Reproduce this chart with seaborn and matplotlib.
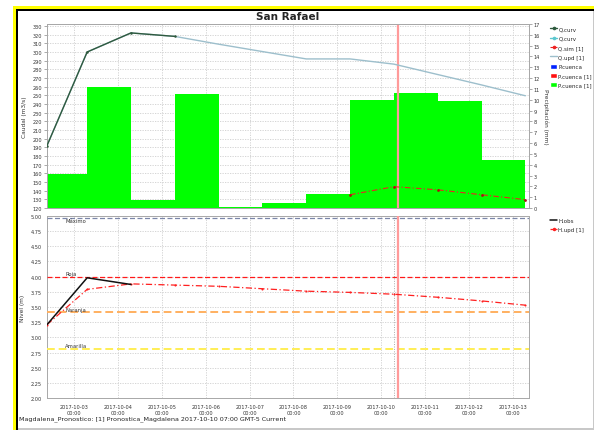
import numpy as np
import pandas as pd
import matplotlib
matplotlib.use("Agg")
import matplotlib.pyplot as plt
import matplotlib.dates as mdates
import matplotlib.ticker as mticker
from matplotlib.lines import Line2D
from matplotlib.patches import Patch, Rectangle
import seaborn as sns

sns.set_style("white")
plt.rcParams['font.family'] = ['DejaVu Sans']

# ---------------- data ----------------
precip_start = pd.date_range("2017-10-02 07:00", periods=11, freq="D")
precip_mm = [3.1, 11.15, 0.7, 10.55, 0.05, 0.45, 1.25, 10.0, 10.65, 9.85, 4.45]

q_curv_time = pd.to_datetime(["2017-10-02 09:00", "2017-10-03 07:00", "2017-10-04 07:00", "2017-10-05 07:00"])
q_curv = [192, 300, 322, 318]

q_upd_time = pd.to_datetime(["2017-10-02 09:00"] + [f"2017-10-{d:02d} 07:00" for d in range(3, 14)])
q_upd = [192, 300, 322, 318, 309, 300.5, 292, 292, 286, 274, 262, 249.5]

q_sim_time = pd.to_datetime([f"2017-10-{d:02d} 07:00" for d in range(9, 14)])
q_sim = [135.3, 144.6, 141.0, 135.3, 129.6]

h_obs_time = pd.to_datetime(["2017-10-02 09:00", "2017-10-03 07:00", "2017-10-04 07:00"])
h_obs = [3.21, 3.98, 3.87]

h_upd_time = q_upd_time
h_upd = [3.21, 3.79, 3.88, 3.86, 3.84, 3.80, 3.76, 3.74, 3.71, 3.66, 3.60, 3.53]

thr_names = ["Máximo", "Roja", "Naranja", "Amarilla"]
thr_values = [4.955, 4.0, 3.41, 2.81]
thr_colors = ["#7b86a8", "#ff1a1a", "#ffb060", "#ffee55"]

tick_days = pd.date_range("2017-10-03", "2017-10-13", freq="D")
x_start = pd.Timestamp("2017-10-02 09:00")
x_end = pd.Timestamp("2017-10-13 09:00")
now_time = pd.Timestamp("2017-10-10 09:00")
fcst_time = pd.Timestamp("2017-10-10 07:00")

title = "San Rafael"
footer = "Magdalena_Pronostico: [1] Pronostica_Magdalena 2017-10-10 07:00 GMT-5 Current"

# ---------------- figure ----------------
W, H = 594, 431
fig = plt.figure(figsize=(W / 100, H / 100), dpi=100)
fig.patch.set_facecolor("white")

def fx(px):
    return px / W

def fy(py):
    return 1 - py / H

ax_l, ax_r = 47, 529
top_t, top_b = 25, 209
bot_t, bot_b = 216.7, 399.3

ax2 = fig.add_axes([fx(ax_l), fy(top_b), fx(ax_r - ax_l), (top_b - top_t) / H])   # precip (bottom layer)
axq = fig.add_axes(ax2.get_position(), sharex=ax2)                                # discharge (top layer)
axq.set_zorder(ax2.get_zorder() + 1)
axq.patch.set_visible(False)
ax2.yaxis.tick_right()
ax2.yaxis.set_label_position("right")
axq.yaxis.tick_left()
axq.yaxis.set_label_position("left")

axh = fig.add_axes([fx(ax_l), fy(bot_b), fx(ax_r - ax_l), (bot_b - bot_t) / H], sharex=ax2)

grid_kw = dict(color="#cfcfcf", linestyle=(0, (1.5, 1.5)), linewidth=0.6)
spine_col = "#a8a8a8"
tick_fs = 3.6

# ---- precip bars (right axis) ----
bar_df = pd.DataFrame({"t": precip_start, "p": precip_mm})
ax2.bar(bar_df["t"], bar_df["p"], width=1.0, align="edge", color="#00ff00",
        edgecolor="none", zorder=3)
ax2.set_ylim(0, 17)
ax2.set_yticks(np.arange(0, 18, 1))
ax2.yaxis.set_major_formatter(mticker.FormatStrFormatter("%d"))

q_lo, q_hi = 120, 332.3
q_ticks = np.arange(120, 331, 10)
ax2.yaxis.set_minor_locator(mticker.FixedLocator((q_ticks - q_lo) / (q_hi - q_lo) * 17))
ax2.grid(which="minor", axis="y", **grid_kw, zorder=0)
ax2.grid(which="major", axis="x", **grid_kw, zorder=0)
ax2.tick_params(axis="y", which="minor", length=0)
ax2.set_ylabel("Precipitación (mm)", rotation=270, fontsize=4.2, labelpad=6, color="#333333")
ax2.axvline(now_time, color="#ff9a9a", lw=1.6, zorder=4)

# ---- discharge lines (left axis) ----
dq_upd = pd.DataFrame({"t": q_upd_time, "v": q_upd})
dq_curv = pd.DataFrame({"t": q_curv_time, "v": q_curv})
dq_sim = pd.DataFrame({"t": q_sim_time, "v": q_sim})
sns.lineplot(data=dq_upd, x="t", y="v", ax=axq, color="#9dbfcc", lw=1.0, zorder=5)
sns.lineplot(data=dq_curv, x="t", y="v", ax=axq, color="#2f5a3e", lw=1.0,
             marker="o", markersize=1.8, markeredgewidth=0, zorder=6)
sns.lineplot(data=dq_sim, x="t", y="v", ax=axq, color="#ee2222", lw=0.8,
             linestyle=(0, (5, 2, 1, 2)), marker="o", markersize=2, markeredgewidth=0,
             markerfacecolor="#aa1111", zorder=6)
axq.set_ylim(q_lo, q_hi)
axq.set_yticks(q_ticks)
axq.set_ylabel("Caudal (m3/s)", fontsize=4.2, labelpad=4, color="#333333")
axq.set_xlabel("")
ax2.set_xlabel("")

# ---- level plot ----
dh_obs = pd.DataFrame({"t": h_obs_time, "v": h_obs})
dh_upd = pd.DataFrame({"t": h_upd_time, "v": h_upd})
for name, val, col in zip(thr_names, thr_values, thr_colors):
    lw = 0.9 if name in ("Máximo", "Roja") else 1.4
    axh.axhline(val, color=col, lw=lw, linestyle=(0, (4, 2)), zorder=3)
    if name == "Máximo":
        axh.text(pd.Timestamp("2017-10-02 19:00"), val + 0.01, name, fontsize=3.8,
                 color="#333333", va="top", ha="left", zorder=4)
    else:
        axh.text(pd.Timestamp("2017-10-02 19:00"), val + 0.015, name, fontsize=3.8,
                 color="#333333", va="bottom", ha="left", zorder=4)
sns.lineplot(data=dh_upd, x="t", y="v", ax=axh, color="#ff2020", lw=0.9,
             linestyle=(0, (5, 2, 1, 2)), marker="o", markersize=1.5, markeredgewidth=0, zorder=5)
sns.lineplot(data=dh_obs, x="t", y="v", ax=axh, color="#111111", lw=1.1, zorder=6)
axh.axvline(fcst_time, color="#aaaaaa", lw=0.7, linestyle=(0, (1, 1.5)), zorder=2)
axh.axvline(now_time, color="#ff9a9a", lw=1.6, zorder=4)
axh.set_ylim(2.0, 5.0)
axh.set_yticks(np.arange(2.0, 5.01, 0.25))
axh.yaxis.set_major_formatter(mticker.FormatStrFormatter("%.2f"))
axh.grid(True, axis="both", **grid_kw, zorder=0)
axh.set_ylabel("Nivel (m)", fontsize=4.2, labelpad=4, color="#333333")
axh.set_xlabel("")

# ---- x axis ----
ax2.set_xlim(x_start, x_end)
axh.set_xticks(tick_days)
axh.xaxis.set_major_formatter(mdates.DateFormatter("%Y-%m-%d\n%H:%M"))
for a in (ax2, axq):
    a.tick_params(axis="x", which="both", labelbottom=False, length=0)

for a in (ax2, axq, axh):
    for s in a.spines.values():
        s.set_color(spine_col)
        s.set_linewidth(0.7)
    a.tick_params(axis="both", which="major", labelsize=tick_fs, length=2, width=0.5,
                  color="#888888", labelcolor="#333333", pad=1.5)
axh.tick_params(axis="x", labelsize=tick_fs, length=2, pad=2)
axq.tick_params(axis="x", length=0)
ax2.tick_params(axis="x", length=0)

# ---- legends ----
h_top = [
    Line2D([], [], color="#2f5a3e", lw=1.0, marker="o", markersize=1.6),
    Line2D([], [], color="#5cc7cf", lw=1.0, marker="o", markersize=1.6),
    Line2D([], [], color="#ee2222", lw=0.8, linestyle=(0, (3, 1.5)), marker="o", markersize=1.6),
    Line2D([], [], color="#9dbfcc", lw=1.0),
    Patch(facecolor="#0022ff"),
    Patch(facecolor="#ff1010"),
    Patch(facecolor="#00ff00"),
]
l_top = ["Q.curv", "Q.curv", "Q.sim [1]", "Q.upd [1]", "P.cuenca", "P.cuenca [1]", "P.cuenca [1]"]
fig.legend(h_top, l_top, loc="upper left", bbox_to_anchor=(fx(550), fy(27)),
           frameon=False, fontsize=4.0, handlelength=1.3, handleheight=1.0,
           handletextpad=0.2, labelspacing=0.72, borderpad=0, borderaxespad=0)
h_bot = [
    Line2D([], [], color="#111111", lw=1.1),
    Line2D([], [], color="#ff2020", lw=0.9, linestyle=(0, (3, 1.5)), marker="o", markersize=1.5),
]
fig.legend(h_bot, ["H.obs", "H.upd [1]"], loc="upper left", bbox_to_anchor=(fx(550), fy(219)),
           frameon=False, fontsize=4.0, handlelength=1.3, handletextpad=0.2,
           labelspacing=0.72, borderpad=0, borderaxespad=0)

# ---- texts ----
fig.text(fx(288), fy(17), title, fontsize=7.5, fontweight="bold", ha="center", va="center")
fig.text(fx(19), fy(419), footer, fontsize=4.6, ha="left", va="center", color="#222222")

# ---- frame ----
def rect(x0, y0, x1, y1, color):
    fig.add_artist(Rectangle((fx(x0), fy(y1)), fx(x1 - x0), (y1 - y0) / H,
                             transform=fig.transFigure, facecolor=color, edgecolor="none",
                             zorder=10))

rect(13, 7, 594, 10.3, "#ffff00")
rect(13, 7, 16, 431, "#ffff00")
rect(15.5, 10, 594, 12, "#000000")
rect(15.5, 10, 17.5, 431, "#000000")
rect(592.5, 12, 594, 431, "#c8c8c8")
rect(17.5, 429, 594, 430.5, "#c8c8c8")

fig.savefig("out.png", dpi=100)
